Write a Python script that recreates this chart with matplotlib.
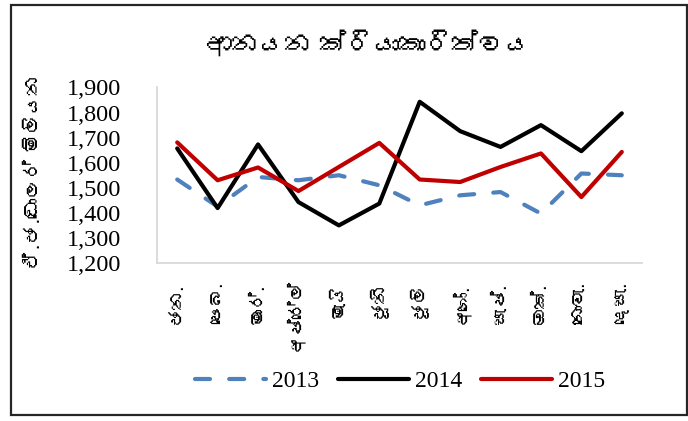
import matplotlib
matplotlib.use('Agg')
import matplotlib.pyplot as plt
from matplotlib import font_manager
from matplotlib.ft2font import FT2Font
from matplotlib.patches import Rectangle
from matplotlib.ticker import FuncFormatter

# Chart data
months = ['ජන.', 'පෙබ.', 'මාර්.', 'අප්‍රේල්', 'මැයි', 'ජූනි',
          'ජූලි', 'අගෝ.', 'සැප්.', 'ඔක්.', 'නොවැ.', 'දෙසැ.']
imports_2013 = [1533, 1425, 1543, 1530, 1550, 1510, 1430, 1470, 1483, 1397, 1557, 1550]
imports_2014 = [1657, 1419, 1673, 1443, 1350, 1437, 1843, 1726, 1663, 1750, 1646, 1797]
imports_2015 = [1681, 1530, 1581, 1487, 1583, 1679, 1533, 1523, 1583, 1637, 1463, 1643]
series_names = ['2013', '2014', '2015']
title_text = 'ආනයන ක්‍රියාකාරිත්වය'
ylabel_text = 'ඒ.ජ.ඩොලර් මිලියන'


# find an installed font that actually has Sinhala glyphs
def find_sinhala_font():
    for f in font_manager.fontManager.ttflist:
        try:
            if 0x0D85 in FT2Font(f.fname).get_charmap():
                return f.name
        except Exception:
            pass
    return None


sinhala = find_sinhala_font()
# DejaVu first so the zero width joiner stays invisible, Sinhala letters fall through
si_family = ['DejaVu Sans', sinhala] if sinhala else ['DejaVu Sans']
num_family = ['Liberation Serif', 'DejaVu Serif']

fig = plt.figure(figsize=(6.88, 4.21), dpi=100)
ax = fig.add_axes([157 / 688, 1 - 263 / 421, 485 / 688, 175.5 / 421])

x = list(range(len(months)))
ax.plot(x, imports_2013, color='#4f81bd', lw=3, dashes=(3.6, 4.6),
        dash_capstyle='round', solid_capstyle='round', label=series_names[0])
ax.plot(x, imports_2014, color='black', lw=3, solid_capstyle='round', label=series_names[1])
ax.plot(x, imports_2015, color='#c00000', lw=3, solid_capstyle='round', label=series_names[2])

ax.set_xlim(-0.5, len(months) - 0.5)
ax.set_ylim(1200, 1900)
ax.set_yticks(range(1200, 2000, 100))
ax.yaxis.set_major_formatter(FuncFormatter(lambda v, p: '{:,}'.format(int(v))))

for s in ['top', 'right']:
    ax.spines[s].set_visible(False)
for s in ['left', 'bottom']:
    ax.spines[s].set_color('#d9d9d9')
    ax.spines[s].set_linewidth(1.3)

ax.tick_params(axis='y', length=0, pad=26, labelsize=17.5)
ax.tick_params(axis='x', length=0, pad=14)
for lab in ax.get_yticklabels():
    lab.set_family(num_family)

ax.set_xticks(x)
ax.set_xticklabels(months, rotation=90, fontsize=13, family=si_family, va='top')

fig.text(35 / 688, 1 - 172 / 421, ylabel_text, rotation=90, ha='center', va='center',
         fontsize=14, family=si_family)
fig.text(368 / 688, 1 - 45 / 421, title_text, ha='center', va='center',
         fontsize=19, family=si_family)

leg = fig.legend(loc='center', bbox_to_anchor=(400 / 688, 1 - 381 / 421), ncol=3,
                 frameon=False, handlelength=3.0, handletextpad=0.25, columnspacing=0.8,
                 prop={'family': num_family, 'size': 17})

# outer border around the whole chart
fig.patches.append(Rectangle((11 / 688, 1 - 415 / 421), 676 / 688, 410 / 421,
                             transform=fig.transFigure, fill=False,
                             edgecolor='#262626', lw=1.6))

fig.savefig('out.png', dpi=100)
